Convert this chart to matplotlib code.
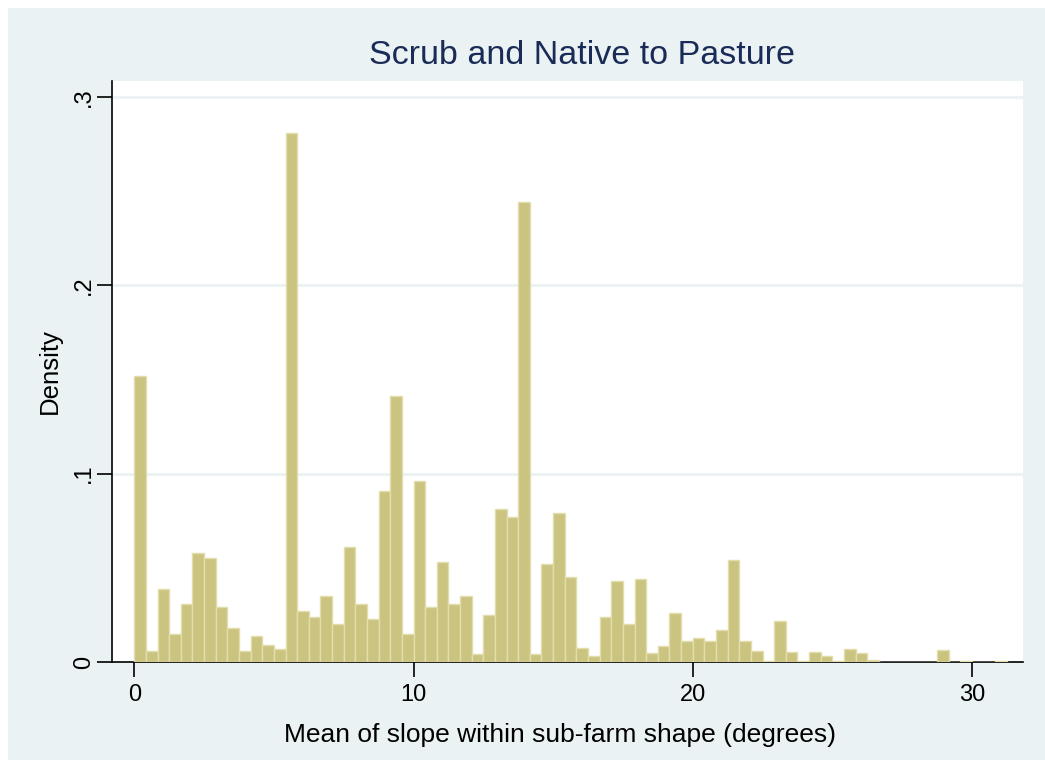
import numpy as np
from matplotlib import pyplot as plt
from matplotlib.patches import Rectangle

# histogram: 75 bins over 0 .. 31.25 degrees
bin_start = 0.0
bin_width = 31.25 / 75
density = [0.152, 0.006, 0.039, 0.015, 0.031, 0.058, 0.055, 0.029, 0.018, 0.006,
           0.014, 0.009, 0.007, 0.281, 0.027, 0.024, 0.035, 0.020, 0.061, 0.031,
           0.023, 0.091, 0.141, 0.015, 0.096, 0.029, 0.053, 0.031, 0.035, 0.0045,
           0.025, 0.081, 0.077, 0.244, 0.0045, 0.052, 0.079, 0.045, 0.0075, 0.003,
           0.024, 0.043, 0.020, 0.044, 0.005, 0.0085, 0.026, 0.011, 0.0125, 0.011,
           0.017, 0.054, 0.011, 0.006, 0.0005, 0.022, 0.0055, 0.0005, 0.0055, 0.003,
           0.0005, 0.007, 0.005, 0.0012, 0.0, 0.0, 0.0, 0.0, 0.0, 0.0062,
           0.0, 0.0007, 0.0, 0.0, 0.0007]
x_ticks = [0, 10, 20, 30]
y_ticks = [0, 0.1, 0.2, 0.3]
y_tick_labels = ["0", ".1", ".2", ".3"]

title = "Scrub and Native to Pasture"
x_label = "Mean of slope within sub-farm shape (degrees)"
y_label = "Density"

bg = "#eaf2f3"
navy = "#1a2b57"

plt.rcParams['font.family'] = ['Liberation Sans', 'DejaVu Sans']


def main():
    fig = plt.figure(figsize=(10.45, 7.6), dpi=100)
    fig.patch.set_facecolor("white")
    fig.patches.append(Rectangle((8 / 1045, 0), 1, 1 - 8 / 760,
                                 transform=fig.transFigure, facecolor=bg,
                                 edgecolor="none", zorder=-10))

    ax = fig.add_axes([111.7 / 1045, 1 - 662 / 760,
                       (1023 - 111.7) / 1045, (662 - 81) / 760])
    ax.set_facecolor("white")

    lefts = bin_start + bin_width * np.arange(len(density))
    ax.bar(lefts, density, width=bin_width, align="edge", color="#cbc380",
           edgecolor="#e2deab", linewidth=1.0, zorder=3)

    for yv in y_ticks[1:]:
        ax.axhline(yv, color=bg, linewidth=2, zorder=1)

    ax.set_xlim(-0.81, 31.83)
    ax.set_ylim(0, 0.3085)
    ax.set_xticks(x_ticks)
    ax.set_yticks(y_ticks)
    ax.set_yticklabels(y_tick_labels, rotation=90, va="center")

    for side in ["top", "right"]:
        ax.spines[side].set_visible(False)
    for side in ["left", "bottom"]:
        ax.spines[side].set_linewidth(1.2)
        ax.spines[side].set_color("black")
    ax.tick_params(length=11, width=1.2, labelsize=17)
    ax.tick_params(axis="x", pad=5)
    ax.tick_params(axis="y", pad=1)

    ax.set_xlabel(x_label, fontsize=19, labelpad=12)
    ax.xaxis.label.set_x(0.492)
    ax.set_ylabel(y_label, fontsize=18.5, labelpad=8)
    fig.text(582 / 1045, 1 - 55 / 760, title, fontsize=24.5, color=navy,
             ha="center", va="center")

    plt.savefig("out.png", dpi=100, facecolor=fig.get_facecolor())
    plt.close()


if __name__ == "__main__":
    main()
